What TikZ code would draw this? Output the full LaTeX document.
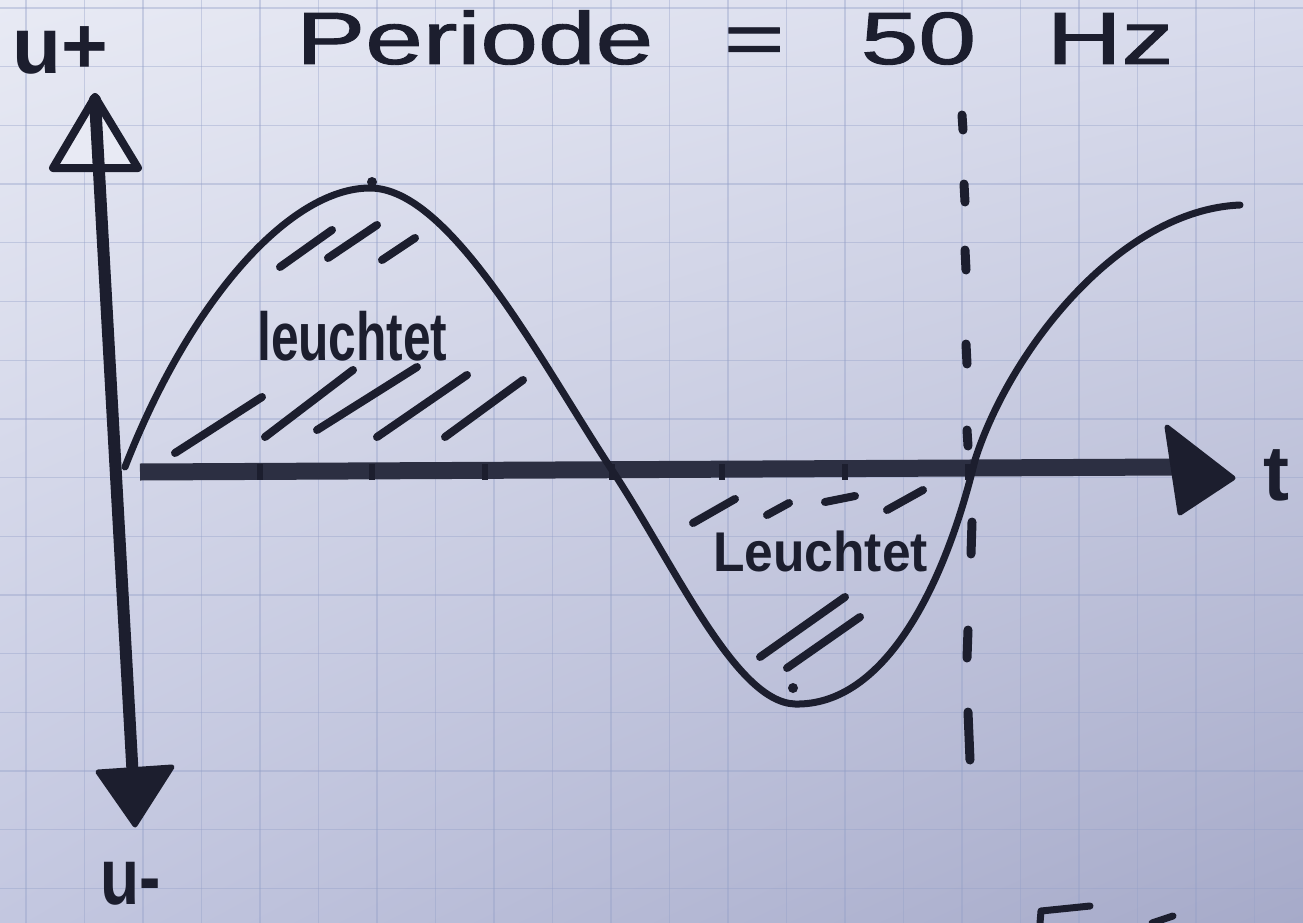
\documentclass[tikz,border=0pt]{standalone}
\usepackage{fontspec}
\usepackage{graphicx}
\usetikzlibrary{shadings}
\setmainfont{Liberation Sans}
\newfontfamily\titlefont[FakeBold=1.2]{Liberation Sans}
\definecolor{ink}{HTML}{1C1E2E}
\definecolor{axisink}{HTML}{2C2F42}
\definecolor{gridc}{HTML}{94A0C8}
\definecolor{paperA}{HTML}{E8EAF4}
\definecolor{paperB}{HTML}{D8DBEC}
\definecolor{paperC}{HTML}{C3C7E0}
\definecolor{paperD}{HTML}{A6AAC9}
\begin{document}
\begin{tikzpicture}[x=1pt,y=-1pt,
  pen/.style={draw=ink,line width=7pt,line cap=round,line join=round},
  hatch/.style={draw=ink,line width=8pt,line cap=round},
  dashstroke/.style={draw=ink,line width=9pt,line cap=round},
  gridline/.style={draw=gridc,line width=1.3pt,opacity=0.4},
  lbl/.style={inner sep=0pt,text=ink,font=\bfseries},
  axisline/.style={draw=axisink,line width=17pt},
  yaxisline/.style={draw=ink,line width=12pt,line cap=round},
  headfill/.style={fill=ink,draw=ink,line width=5pt,line join=round}]
\useasboundingbox (0,0) rectangle (1303,923);
\shade[upper left=paperA,upper right=paperB,lower left=paperC,lower right=paperD] (0,0) rectangle (1303,923);
% grid paper
\foreach \i in {0,...,22} \draw[gridline] ({26+58.5*\i},0) -- ({26+58.5*\i},923);
\foreach \j in {0,...,15} \draw[gridline] (0,{8+58.7*\j}) -- (1303,{8+58.7*\j});

% axis coordinates
\coordinate (ytop) at (95,100);
\coordinate (ybot) at (133,780);
\coordinate (xleft) at (140,472);
\coordinate (xend) at (1176,467);

% horizontal axis
\draw[axisline] (xleft) -- (xend);
\foreach \x in {260,372,485,612,722,845,968}
  \fill[ink] (\x-3,464) rectangle (\x+3,480);
\path[headfill] (1167,427) -- (1233,478) -- (1180,513) -- cycle;

% vertical axis
\draw[ink,line width=8pt,line join=round,fill=paperA] (95,97) -- (138,168) -- (53,168) -- cycle;
\draw[yaxisline] (ybot) -- (ytop);
\path[headfill] (98,772) -- (172,767) -- (135,825) -- cycle;

% sine curve
\coordinate (s0) at (125,467);
\coordinate (s1) at (370,188);
\coordinate (s2) at (610,467);
\coordinate (s3) at (795,704);
\coordinate (s4) at (975,460);
\coordinate (s5) at (1240,205);
\draw[pen] (s0) .. controls (190,300) and (290,188) .. (s1)
  .. controls (450,188) and (540,360) .. (s2)
  .. controls (675,565) and (735,702) .. (s3)
  .. controls (885,706) and (945,585) .. (s4)
  .. controls (1010,350) and (1120,210) .. (s5);
\fill[ink] (372,182) circle (5);
\fill[ink] (793,688) circle (5);

% period marker (dashed vertical line)
\draw[dashstroke] (962,115) -- (963,130);
\draw[dashstroke] (964,184) -- (965,202);
\draw[dashstroke] (965,250) -- (966,270);
\draw[dashstroke] (966,344) -- (967,364);
\draw[dashstroke] (967,430) -- (968,446);
\draw[dashstroke] (972,522) -- (971,554);
\draw[dashstroke] (968,630) -- (967,658);
\draw[dashstroke] (968,712) -- (970,760);

% hatching, upper lobe
\draw[hatch] (280,267) -- (332,230);
\draw[hatch] (328,258) -- (377,225);
\draw[hatch] (382,260) -- (415,238);
\draw[hatch] (175,453) -- (262,397);
\draw[hatch] (265,437) -- (353,370);
\draw[hatch] (317,430) -- (417,367);
\draw[hatch] (377,437) -- (467,375);
\draw[hatch] (445,437) -- (523,380);

% hatching, lower lobe
\draw[hatch] (693,523) -- (735,499);
\draw[hatch] (767,515) -- (789,503);
\draw[hatch] (825,502) -- (855,496);
\draw[hatch] (887,510) -- (923,490);
\draw[hatch] (760,657) -- (845,597);
\draw[hatch] (787,668) -- (860,617);

% cut-off marks at bottom edge
\draw[pen] (1040,923) -- (1041,911) -- (1090,906);
\draw[pen] (1152,923) -- (1173,916);

% texts
\node[lbl,font=\titlefont,anchor=base west] (title) at (296,64)
  {\fontsize{74}{74}\selectfont\scalebox{1.4}[1]{Periode\hspace{30pt} =\hspace{34pt} 50\hspace{30pt} Hz}};
\node[lbl,anchor=base west] (uplus) at (12,74)
  {\fontsize{80}{80}\selectfont u+};
\node[lbl,anchor=base west] (tlabel) at (1263,500)
  {\fontsize{78}{78}\selectfont t};
\node[lbl,anchor=base west] (uminus) at (100,904)
  {\fontsize{80}{80}\selectfont\scalebox{0.8}[1]{u-}};
\node[lbl,anchor=base west] (lit1) at (257,360)
  {\fontsize{68}{68}\selectfont\scalebox{0.73}[1]{leuchtet}};
\node[lbl,anchor=base west] (lit2) at (713,571)
  {\fontsize{56}{56}\selectfont\scalebox{0.92}[1]{Leuchtet}};
\end{tikzpicture}
\end{document}
